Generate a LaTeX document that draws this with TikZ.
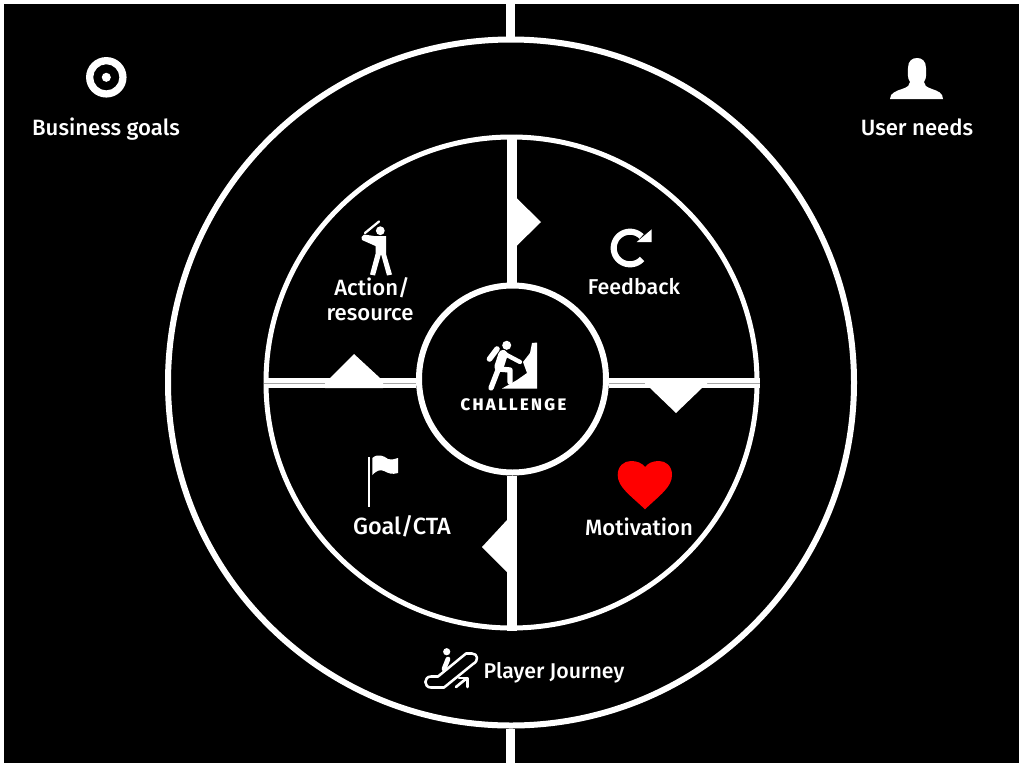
\documentclass[tikz,border=0pt]{standalone}
\usepackage{fontspec}
\setmainfont{Fira Sans}[UprightFont=* Medium]
\usetikzlibrary{positioning}

\begin{document}
\begin{tikzpicture}[x=0.75pt,y=-0.75pt,
ring/.style={circle,draw=white,line width=4.5pt,inner sep=0pt},
spoke/.style={draw=white,line width=7.2pt},
hairline/.style={draw=gray!70,line width=0.7pt},
wedge/.style={fill=white,draw=none},
icon/.style={fill=white,draw=none},
iconline/.style={draw=white,line cap=round,line join=round},
caption/.style={text=white,inner sep=0pt,anchor=base,font=\fontsize{16.6}{18}\selectfont}]
    \useasboundingbox (0,0) rectangle (1024,768);
    \fill[white] (0,0) rectangle (1024,768);
    \fill[black] (4,4) rectangle (1018.5,763);
    % rings
    \node[ring,minimum size=514.5pt] (outer) at (511,382.5) {};
    \node[ring,minimum size=368.25pt,line width=3.75pt] (middle) at (511.5,382.5) {};
    \node[ring,minimum size=140.25pt] (core) at (512.5,379) {};
    \coordinate (topedge) at (510.5,0);
    \coordinate (bottomedge) at (510.5,768);
    % spokes
    \draw[spoke] (topedge) -- (topedge |- outer.north);
    \draw[spoke] (bottomedge) -- (bottomedge |- outer.south);
    \draw[spoke] (511.75,0 |- middle.north) -- (511.75,0 |- core.north);
    \draw[spoke] (512,0 |- core.south) -- (512,0 |- middle.south);
    \draw[spoke] (middle.west |- 0,383) -- (core.west |- 0,383);
    \draw[spoke] (core.east |- 0,383) -- (middle.east |- 0,383);
    \draw[hairline] (middle.west |- 0,383.3) -- (core.west |- 0,383.3);
    \draw[hairline] (core.east |- 0,383.3) -- (middle.east |- 0,383.3);
    % wedges
    \fill[wedge] (512,198) -- (516.5,198) -- (541,222) -- (516.5,246) -- (512,246) -- cycle;
    \fill[wedge] (645,378) -- (645,384) -- (650,388) -- (676,413) -- (702,388) -- (707,384) -- (707,378) -- cycle;
    \fill[wedge] (512,520) -- (507,520) -- (482,547) -- (507,572) -- (512,572) -- cycle;
    \fill[wedge] (325,388) -- (325,383) -- (330,378) -- (354,354) -- (380,378) -- (383,383) -- (383,388) -- cycle;
    % labels
    \node[caption] (business) at (106,135.3) {Business goals};
    \node[caption] (user) at (917,135.3) {User needs};
    \node[caption] (action) at (372,295) {Action/};
    \node[caption] (resource) at (370,320.5) {resource};
    \node[caption,font=\fontsize{16.1}{18}\selectfont] (feedback) at (634,294.5) {Feedback};
    \node[caption,font=\fontsize{17.6}{18}\selectfont] (goal) at (402,534) {Goal/CTA};
    \node[caption] (motivation) at (639,535) {Motivation};
    \node[caption,font=\fontsize{16}{18}\selectfont] (journey) at (554,678.3) {Player Journey};
    \node[caption,font=\fontsize{12.5}{14}\selectfont\bfseries\addfontfeatures{LetterSpace=14}] (challenge) at (513.5,410.7) {CHALLENGE};
    % target
    \fill[icon,even odd rule] (106.3,77.3) circle[radius=15.2pt] (106.3,77.3) circle[radius=9.8pt];
    \fill[icon] (106.3,77.3) circle[radius=3.4pt];
    % user
    \fill[icon] (890,99) .. controls (890,93) and (896,91) .. (902,89) .. controls (908,87) and (910,85) .. (910,82) .. controls (907,78) and (908,72) .. (908,68) .. controls (908,61) and (912,58) .. (917,58) .. controls (922,58) and (926,61) .. (926,68) .. controls (926,72) and (927,78) .. (924,82) .. controls (924,85) and (926,87) .. (932,89) .. controls (938,91) and (943,93) .. (943,99) -- cycle;
    % batter
    \fill[icon] (380.3,230.7) circle[radius=3.3pt];
    \draw[iconline,line width=1.7pt] (379,221.5) -- (365,233);
    \fill[icon] (361.5,237) -- (364,234.5) -- (374,236) -- (386,236) -- (386,254) -- (392,274.5) -- (387,275.5) -- (381,254) -- (375,275.5) -- (370,274.5) -- (375.5,254) -- (375.5,246) -- (362,240) -- cycle;
    % refresh
    \draw[white,line width=4.6pt] plot[domain=45:318,samples=40] ({630+16.3*cos(\x)},{248-16.3*sin(\x)});
    \fill[icon] (651.7,229.3) -- (651.7,242) -- (636.7,242) -- cycle;
    % climber
    \fill[icon] (506.7,345.3) circle[radius=3.4pt];
    \draw[iconline,line width=4.2pt] (489.5,359) -- (497,349);
    \draw[iconline,line width=7pt] (503,354.5) -- (499,367);
    \draw[iconline,line width=3.2pt] (503,353) -- (520,362);
    \draw[iconline,line width=4pt] (498,370) -- (491,388);
    \draw[iconline,line width=4pt] (499,369) -- (510,370) -- (510,382);
    \fill[icon] (532,343) -- (537,342.5) -- (537,388.5) -- (502,388.5) -- (517,380) -- (527,373) -- (523,362) -- (530,353) -- cycle;
    % flag
    \draw[white,line width=2pt] (369,457) -- (369,507);
    \fill[icon] (372.3,458) .. controls (378,453) and (384,456) .. (388,459) .. controls (392,460) and (395,459) .. (398,458) -- (398,473) .. controls (392,475) and (388,473) .. (384,471) .. controls (380,469) and (376,471) .. (372.3,475) -- cycle;
    % heart
    \fill[red] (645,509.3) .. controls (630,495) and (617.7,487) .. (617.7,475) .. controls (617.7,466) and (624,461) .. (631,461) .. controls (637,461) and (642,463) .. (645,467) .. controls (648,463) and (653,461) .. (659,461) .. controls (666,461) and (672,466) .. (672,475) .. controls (672,487) and (660,495) .. (645,509.3) -- cycle;
    % escalator
    \fill[icon] (446.7,651.7) circle[radius=2.7pt];
    \draw[iconline,line width=1.9pt] (466,653.5) -- (438,676.5) -- (431,676.5) .. controls (423.5,676.5) and (423.5,687.5) .. (431,687.5) -- (444,687.5) -- (473,664) .. controls (479,661) and (478,653.5) .. (472,653.5) -- cycle;
    \draw[iconline,line width=3.6pt] (448,659) -- (444,669);
    \draw[iconline,line width=2pt] (456,687) -- (467,678);
    \draw[iconline,line width=2pt] (459,678) -- (467.5,678) -- (467.5,687);
\end{tikzpicture}
\end{document}
